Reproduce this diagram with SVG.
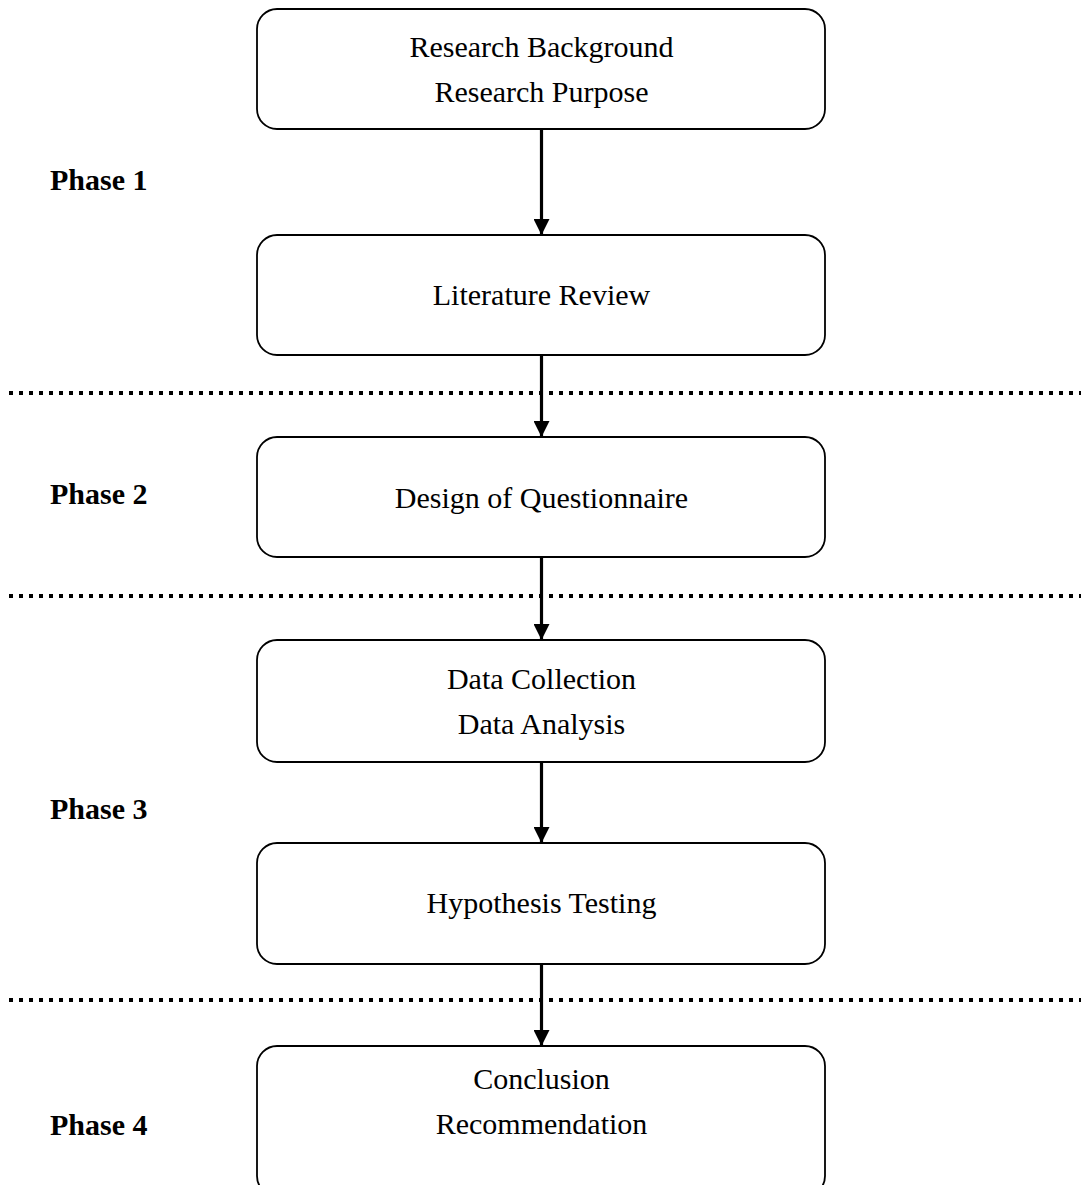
<svg xmlns="http://www.w3.org/2000/svg" width="1081" height="1185" viewBox="0 0 1081 1185">
  <style>
    .box { fill: #ffffff; stroke: #000000; stroke-width: 1.8; }
    .lbl { font-family: "Liberation Serif", "Times New Roman", serif; font-size: 30px; fill: #000000; text-anchor: middle; }
    .phase { font-family: "Liberation Serif", "Times New Roman", serif; font-size: 30px; font-weight: bold; fill: #000000; }
    .sep { stroke: #000000; stroke-width: 4; stroke-dasharray: 4 6; fill: none; }
    .flow { stroke: #000000; stroke-width: 3.2; fill: none; marker-end: url(#arrow); }
  </style>
  <defs>
    <marker id="arrow" markerUnits="userSpaceOnUse" markerWidth="16" markerHeight="16" viewBox="0 0 16 16" refX="16" refY="8" orient="auto">
      <path d="M0,0 L16,8 L0,16 Z" fill="#000000"/>
    </marker>
  </defs>
  <rect width="1081" height="1185" fill="#ffffff"/>

  <!-- phase separators -->
  <g id="separators">
    <line class="sep" x1="9" y1="393" x2="1081" y2="393"/>
    <line class="sep" x1="9" y1="596" x2="1081" y2="596"/>
    <line class="sep" x1="9" y1="1000" x2="1081" y2="1000"/>
  </g>

  <!-- phase labels -->
  <g id="phases">
    <text class="phase" x="50" y="190">Phase 1</text>
    <text class="phase" x="50" y="504">Phase 2</text>
    <text class="phase" x="50" y="819">Phase 3</text>
    <text class="phase" x="50" y="1135">Phase 4</text>
  </g>

  <!-- connectors -->
  <g id="connectors">
    <line class="flow" x1="541.5" y1="129" x2="541.5" y2="235"/>
    <line class="flow" x1="541.5" y1="355" x2="541.5" y2="437"/>
    <line class="flow" x1="541.5" y1="557" x2="541.5" y2="640"/>
    <line class="flow" x1="541.5" y1="762" x2="541.5" y2="843"/>
    <line class="flow" x1="541.5" y1="964" x2="541.5" y2="1046"/>
  </g>

  <g id="node-background">
    <rect class="box" x="257" y="9" width="568" height="120" rx="20" ry="20"/>
    <text class="lbl" x="541.5" y="57">Research Background</text>
    <text class="lbl" x="541.5" y="102">Research Purpose</text>
  </g>

  <g id="node-literature">
    <rect class="box" x="257" y="235" width="568" height="120" rx="20" ry="20"/>
    <text class="lbl" x="541.5" y="305">Literature Review</text>
  </g>

  <g id="node-questionnaire">
    <rect class="box" x="257" y="437" width="568" height="120" rx="20" ry="20"/>
    <text class="lbl" x="541.5" y="508">Design of Questionnaire</text>
  </g>

  <g id="node-data">
    <rect class="box" x="257" y="640" width="568" height="122" rx="20" ry="20"/>
    <text class="lbl" x="541.5" y="689">Data Collection</text>
    <text class="lbl" x="541.5" y="734">Data Analysis</text>
  </g>

  <g id="node-hypothesis">
    <rect class="box" x="257" y="843" width="568" height="121" rx="20" ry="20"/>
    <text class="lbl" x="541.5" y="913">Hypothesis Testing</text>
  </g>

  <g id="node-conclusion">
    <rect class="box" x="257" y="1046" width="568" height="150" rx="20" ry="20"/>
    <text class="lbl" x="541.5" y="1089">Conclusion</text>
    <text class="lbl" x="541.5" y="1134">Recommendation</text>
  </g>
</svg>
